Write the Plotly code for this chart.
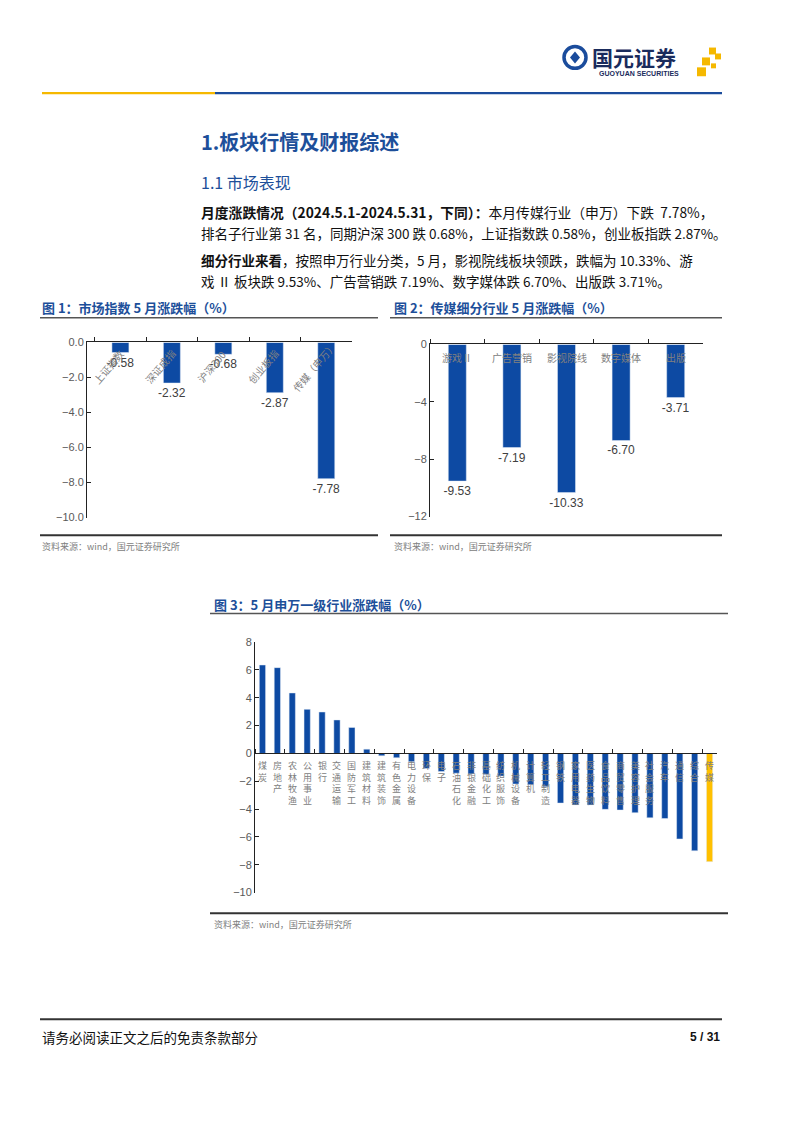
import plotly.graph_objects as go

W, H = 802, 1133

# ---------------- data ----------------
idx_names = ["上证指数", "深证成指", "沪深300", "创业板指", "传媒（申万）"]
idx_values = [-0.58, -2.32, -0.68, -2.87, -7.78]

sub_names = ["游戏Ⅱ", "广告营销", "影视院线", "数字媒体", "出版"]
sub_values = [-9.53, -7.19, -10.33, -6.70, -3.71]

ind_names = ["煤炭", "房地产", "农林牧渔", "公用事业", "银行", "交通运输", "国防军工",
             "建筑材料", "建筑装饰", "有色金属", "电力设备", "环保", "电子", "石油石化",
             "非银金融", "基础化工", "纺织服饰", "机械设备", "计算机", "轻工制造", "钢铁",
             "家用电器", "医药生物", "食品饮料", "商贸零售", "美容护理", "社会服务", "汽车",
             "通信", "综合", "传媒"]
ind_values = [6.36, 6.17, 4.35, 3.17, 2.98, 2.41, 1.87, 0.31, -0.17, -0.31, -0.59, -1.09,
              -1.30, -1.42, -1.47, -1.51, -1.63, -2.20, -2.25, -2.39, -3.57, -3.71, -3.71,
              -4.02, -4.07, -4.26, -4.63, -4.68, -6.15, -7.00, -7.78]

idx_ticks = [0, -2, -4, -6, -8, -10]
sub_ticks = [0, -4, -8, -12]
ind_ticks = [8, 6, 4, 2, 0, -2, -4, -6, -8, -10]

# ---------------- style ----------------
BLUE = "#0D4AA3"
YELLOW = "#FFC000"
HEAD = "#1D4F9A"
GRAY = "#808080"
TICK = "#595959"
CJK = "Noto Sans CJK SC"
LAT = "Liberation Sans, Arial, sans-serif"


def px(x):
    return x / W


def py(y):
    return 1 - y / H


def xd(a, b):
    return [a / W, b / W]


def yd(top, bottom):
    return [1 - bottom / H, 1 - top / H]


fig = go.Figure()

# chart 1
fig.add_trace(go.Bar(x=idx_names, y=idx_values, marker_color=BLUE, width=0.33,
                     texttemplate="%{y:.2f}", textposition="outside", cliponaxis=False,
                     constraintext="none",
                     textfont=dict(size=12, color="#404040", family=LAT),
                     xaxis="x", yaxis="y", hoverinfo="skip"))
# chart 2
fig.add_trace(go.Bar(x=sub_names, y=sub_values, marker_color=BLUE, width=0.33,
                     texttemplate="%{y:.2f}", textposition="outside", cliponaxis=False,
                     constraintext="none",
                     textfont=dict(size=12, color="#404040", family=LAT),
                     xaxis="x2", yaxis="y2", hoverinfo="skip"))
# chart 3
ind_colors = [YELLOW if n == "传媒" else BLUE for n in ind_names]
fig.add_trace(go.Bar(x=ind_names, y=ind_values, marker_color=ind_colors, width=0.42,
                     xaxis="x3", yaxis="y3", hoverinfo="skip"))

axis_common = dict(showgrid=False, zeroline=False, linecolor="#222222", linewidth=1,
                   showline=True)

ydom3 = yd(643, 896)
r3 = [-10, 8]
zero3 = ydom3[0] + (0 - r3[0]) / (r3[1] - r3[0]) * (ydom3[1] - ydom3[0])

fig.update_layout(
    width=W, height=H, margin=dict(l=0, r=0, t=0, b=0),
    paper_bgcolor="white", plot_bgcolor="white", showlegend=False,
    font=dict(family=CJK),
    xaxis=dict(domain=xd(87, 352), anchor="y", side="top", ticks="outside", ticklen=4,
               tickson="boundaries", showticklabels=False, tickcolor="#222222",
               **axis_common),
    yaxis=dict(domain=yd(340, 517), anchor="x", range=[-10, 0], tickvals=idx_ticks,
               tickformat=".1f", ticks="inside", ticklen=4, tickcolor="#222222",
               tickfont=dict(size=11, color=TICK, family=LAT), **axis_common),
    xaxis2=dict(domain=xd(430, 703), anchor="y2", side="top", ticks="outside", ticklen=4,
                tickson="boundaries", showticklabels=False, tickcolor="#222222",
                **axis_common),
    yaxis2=dict(domain=yd(342, 516), anchor="x2", range=[-12, 0], tickvals=sub_ticks,
                ticks="inside", ticklen=4, tickcolor="#222222",
                tickfont=dict(size=11, color=TICK, family=LAT), **axis_common),
    xaxis3=dict(domain=xd(255, 717), anchor="free", position=zero3, side="top",
                ticks="outside", ticklen=4, tickson="boundaries", showticklabels=False,
                tickcolor="#222222", **axis_common),
    yaxis3=dict(domain=ydom3, anchor="x3", range=r3, tickvals=ind_ticks,
                ticks="inside", ticklen=4, tickcolor="#222222",
                tickfont=dict(size=11, color=TICK, family=LAT), **axis_common),
)

ann = []


def text(x, y, t, size, color="#111111", bold=False, xanchor="left", family=CJK):
    ann.append(dict(x=px(x), y=py(y), xref="paper", yref="paper", text=("<b>%s</b>" % t) if bold else t,
                    showarrow=False, xanchor=xanchor, yanchor="middle",
                    font=dict(size=size, color=color, family=family)))


# category labels
for n in idx_names:
    ann.append(dict(x=n, y=0, xref="x", yref="y", text=n, showarrow=False, textangle=-50,
                    xshift=-12, yshift=-24, font=dict(size=10, color=GRAY, family=CJK)))
for n in sub_names:
    ann.append(dict(x=n, y=0, xref="x2", yref="y2", text=n, showarrow=False,
                    yanchor="top", yshift=-4, font=dict(size=10, color=GRAY, family=CJK)))
for n in ind_names:
    ann.append(dict(x=n, y=0, xref="x3", yref="y3", text="<br>".join(list(n)),
                    showarrow=False, yanchor="top", yshift=-4,
                    font=dict(size=9, color=GRAY, family=CJK)))

# header logo
text(590, 52, "国元证券", 21, color="#1A2B5C", bold=True)
text(597, 68, "GUOYUAN SECURITIES", 7, color="#1A2B5C", bold=True, family=LAT)

# headings and paragraphs
text(199, 137, "1.板块行情及财报综述", 20, color=HEAD, bold=True)
text(199, 178, "1.1 市场表现", 16, color=HEAD)
text(199, 208, "<b>月度涨跌情况（2024.5.1-2024.5.31，下同）：</b>本月传媒行业（申万）下跌  7.78%，", 13.8)
text(199, 229, "排名子行业第 31 名，同期沪深 300 跌 0.68%，上证指数跌 0.58%，创业板指跌 2.87%。", 13.5)
text(199, 257, "<b>细分行业来看</b>，按照申万行业分类，5 月，影视院线板块领跌，跌幅为 10.33%、游", 13.5)
text(199, 278, "戏 Ⅱ 板块跌 9.53%、广告营销跌 7.19%、数字媒体跌 6.70%、出版跌 3.71%。", 13.5)

# chart titles and sources
text(40, 305, "图 1：市场指数 5 月涨跌幅（%）", 13, color=HEAD, bold=True)
text(392, 305, "图 2：传媒细分行业 5 月涨跌幅（%）", 13, color=HEAD, bold=True)
text(212, 605, "图 3：5 月申万一级行业涨跌幅（%）", 13, color=HEAD, bold=True)
text(40, 546, "资料来源：wind，国元证券研究所", 9, color=GRAY)
text(392, 546, "资料来源：wind，国元证券研究所", 9, color=GRAY)
text(212, 928, "资料来源：wind，国元证券研究所", 9, color=GRAY)

# footer
text(40, 1042, "请务必阅读正文之后的免责条款部分", 13.5, color="#111111")
text(722, 1042, "5 / 31", 12, color="#111111", bold=True, xanchor="right", family=LAT)

fig.update_layout(annotations=ann)

shapes = []


def hline(x0, x1, y, color, width):
    shapes.append(dict(type="line", xref="paper", yref="paper", x0=px(x0), x1=px(x1),
                       y0=py(y), y1=py(y), line=dict(color=color, width=width)))


hline(42, 215, 88, "#F5B800", 2.2)
hline(215, 722, 88, "#1B4C9C", 2.2)
hline(40, 378, 315, "#555555", 1.5)
hline(390, 722, 315, "#555555", 1.5)
hline(40, 378, 535, "#333333", 2)
hline(390, 722, 535, "#333333", 2)
hline(210, 728, 614, "#555555", 1.5)
hline(210, 728, 917, "#333333", 2)
hline(40, 722, 1024, "#333333", 2)

# logo circle
shapes.append(dict(type="circle", xref="paper", yref="paper", x0=px(564), x1=px(586),
                   y0=py(63), y1=py(41), line=dict(color="#1B4C9C", width=3.5),
                   fillcolor="white"))
shapes.append(dict(type="path", xref="paper", yref="paper",
                   path="M %f %f L %f %f L %f %f L %f %f Z" % (px(575), py(46), px(580), py(52),
                                                             px(575), py(58), px(570), py(52)),
                   fillcolor="#1B4C9C", line=dict(width=0)))
# logo yellow squares
for (x0, y0, s) in [(709, 42, 7), (715, 48, 6), (702, 52, 8), (697, 62, 9), (711, 58, 5)]:
    shapes.append(dict(type="rect", xref="paper", yref="paper", x0=px(x0), x1=px(x0 + s),
                       y0=py(y0 + s), y1=py(y0), fillcolor="#F5B800", line=dict(width=0)))

fig.update_layout(shapes=shapes)

fig.write_html("out.html")
